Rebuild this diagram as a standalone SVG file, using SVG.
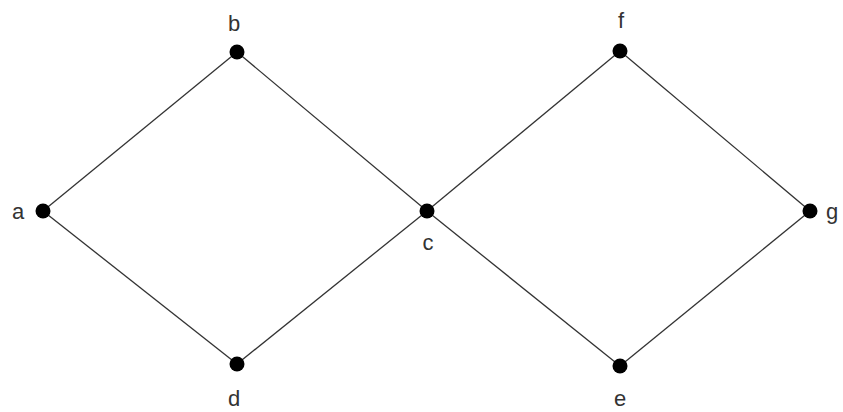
<svg xmlns="http://www.w3.org/2000/svg" width="843" height="412" viewBox="0 0 843 412">
<style>
.e{stroke:#333;stroke-width:1.3;fill:none}
.n{fill:#000}
.t{font-family:"Liberation Sans",Arial,sans-serif;font-size:22px;fill:#333;text-anchor:middle}
</style>
<rect width="843" height="412" fill="#fff"/>
<g id="connectors">
<line class="e" x1="43" y1="211" x2="237" y2="52"/>
<line class="e" x1="237" y1="52" x2="427" y2="211"/>
<line class="e" x1="43" y1="211" x2="237" y2="364"/>
<line class="e" x1="237" y1="364" x2="427" y2="211"/>
<line class="e" x1="427" y1="211" x2="620" y2="51"/>
<line class="e" x1="620" y1="51" x2="810" y2="211"/>
<line class="e" x1="427" y1="211" x2="620" y2="366"/>
<line class="e" x1="620" y1="366" x2="810" y2="211"/>
</g>
<g id="a"><circle class="n" cx="43" cy="211" r="7.5"/><text class="t" x="18" y="219">a</text></g>
<g id="b"><circle class="n" cx="237" cy="52" r="7.5"/><text class="t" x="234" y="31">b</text></g>
<g id="c"><circle class="n" cx="427" cy="211" r="7.5"/><text class="t" x="428" y="250">c</text></g>
<g id="d"><circle class="n" cx="237" cy="364" r="7.5"/><text class="t" x="234" y="406">d</text></g>
<g id="e"><circle class="n" cx="620" cy="366" r="7.5"/><text class="t" x="620" y="406">e</text></g>
<g id="f"><circle class="n" cx="620" cy="51" r="7.5"/><text class="t" x="621" y="28">f</text></g>
<g id="g"><circle class="n" cx="810" cy="211" r="7.5"/><text class="t" x="832" y="219">g</text></g>
</svg>
